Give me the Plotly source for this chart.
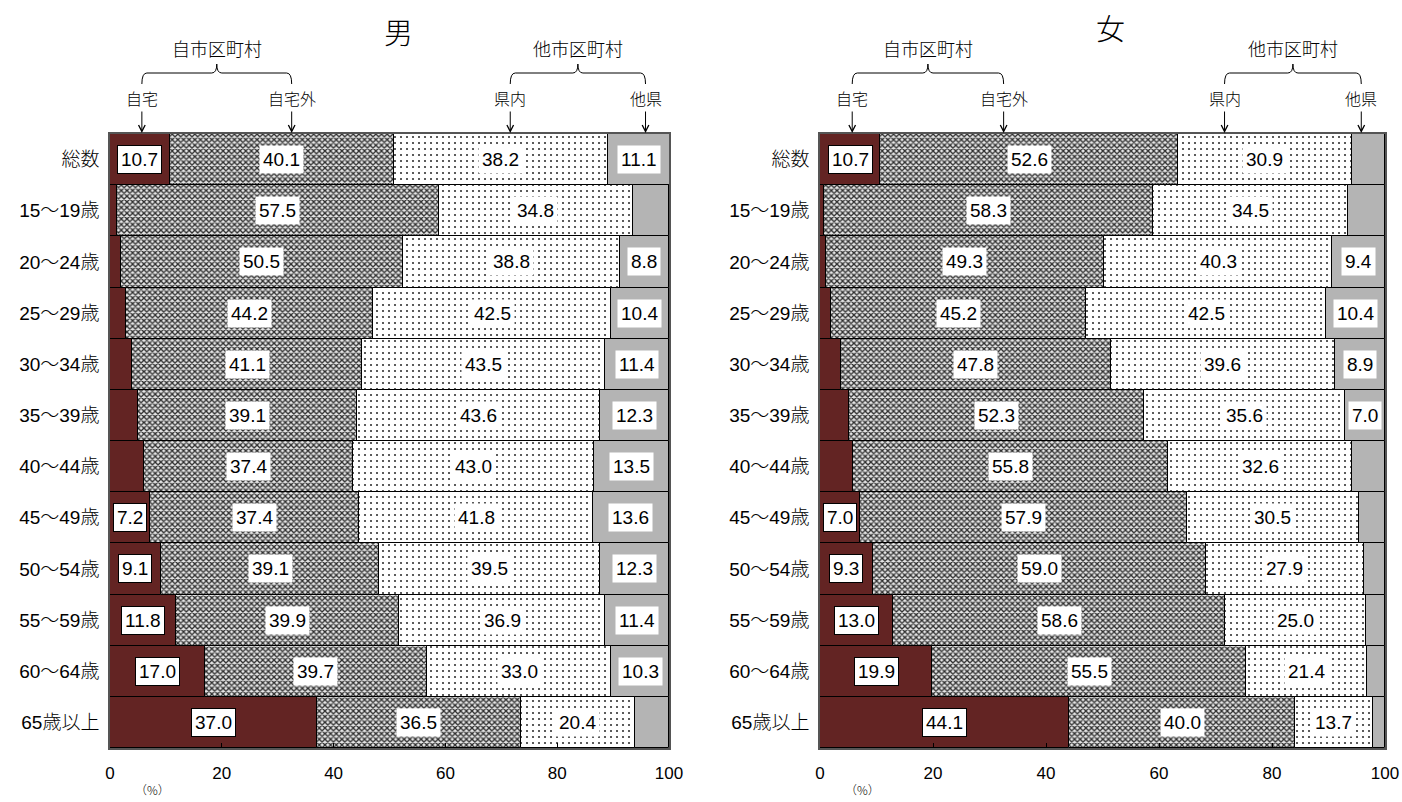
import plotly.graph_objects as go

# ---- data -----------------------------------------------------------------
categories = ["総数", "15～19歳", "20～24歳", "25～29歳", "30～34歳", "35～39歳",
              "40～44歳", "45～49歳", "50～54歳", "55～59歳", "60～64歳", "65歳以上"]

series_names = ["自宅", "自宅外", "県内", "他県"]

male_jitaku = [10.7, 1.3, 1.9, 2.9, 4.0, 5.0, 6.1, 7.2, 9.1, 11.8, 17.0, 37.0]
male_jitakugai = [40.1, 57.5, 50.5, 44.2, 41.1, 39.1, 37.4, 37.4, 39.1, 39.9, 39.7, 36.5]
male_kennai = [38.2, 34.8, 38.8, 42.5, 43.5, 43.6, 43.0, 41.8, 39.5, 36.9, 33.0, 20.4]
male_taken = [11.1, 6.4, 8.8, 10.4, 11.4, 12.3, 13.5, 13.6, 12.3, 11.4, 10.3, 6.1]

female_jitaku = [10.7, 0.7, 1.0, 1.9, 3.7, 5.1, 5.8, 7.0, 9.3, 13.0, 19.9, 44.1]
female_jitakugai = [52.6, 58.3, 49.3, 45.2, 47.8, 52.3, 55.8, 57.9, 59.0, 58.6, 55.5, 40.0]
female_kennai = [30.9, 34.5, 40.3, 42.5, 39.6, 35.6, 32.6, 30.5, 27.9, 25.0, 21.4, 13.7]
female_taken = [5.8, 6.5, 9.4, 10.4, 8.9, 7.0, 5.8, 4.6, 3.8, 3.4, 3.2, 2.2]

x_ticks = [0, 20, 40, 60, 80, 100]
panel_titles = ["男", "女"]
group_titles = ["自市区町村", "他市区町村"]

# ---- styling --------------------------------------------------------------
W, H = 1402, 802
SANS = "Liberation Sans, Arial, sans-serif"
JP = "Liberation Sans, Noto Sans CJK JP, sans-serif"
CJK = "Noto Sans CJK JP, sans-serif"
MIN_LABEL = 7.0  # values below this are left unlabelled


def px(x):
    return x / W


def py(y):
    return 1 - y / H


styles = [
    dict(color="#632423", pattern=None),
    dict(color="#808080", pattern=dict(shape="x", fgcolor="#2e2e2e", bgcolor="#e6e6e6",
                                       size=4, solidity=0.55, fillmode="replace")),
    dict(color="#ffffff", pattern=dict(shape=".", fgcolor="#333333", bgcolor="#ffffff",
                                       size=6, solidity=0.1, fillmode="replace")),
    dict(color="#b4b4b4", pattern=None),
]

panels = [
    dict(series=[male_jitaku, male_jitakugai, male_kennai, male_taken],
         xa="x", ya="y", dom=[110 / W, 669 / W], title=panel_titles[0], title_x=398, title_y=31),
    dict(series=[female_jitaku, female_jitakugai, female_kennai, female_taken],
         xa="x2", ya="y2", dom=[820 / W, 1385 / W], title=panel_titles[1], title_x=1110, title_y=27),
]

fig = go.Figure()
annotations = []
shapes = []

for p in panels:
    base = [0.0] * len(categories)
    for k, (name, vals) in enumerate(zip(series_names, p["series"])):
        st = styles[k]
        marker = dict(color=st["color"], line=dict(color="#000000", width=1))
        if st["pattern"] is not None:
            marker["pattern"] = st["pattern"]
        fig.add_trace(go.Bar(
            y=categories, x=vals, base=base, orientation="h", name=name,
            marker=marker, xaxis=p["xa"], yaxis=p["ya"], showlegend=False,
            hoverinfo="skip",
        ))
        for cat, b, v in zip(categories, base, vals):
            if v >= MIN_LABEL:
                annotations.append(dict(
                    x=b + v / 2, y=cat, xref=p["xa"], yref=p["ya"],
                    text=f"{v:.1f}", showarrow=False,
                    font=dict(family=SANS, size=19, color="#000000"),
                    bgcolor="#ffffff",
                    bordercolor="#000000" if k == 0 else "rgba(0,0,0,0)",
                    borderwidth=1, borderpad=3,
                ))
        base = [b + v for b, v in zip(base, vals)]

    # panel title
    annotations.append(dict(x=px(p["title_x"]), y=py(p["title_y"]), xref="paper", yref="paper",
                            xanchor="center", yanchor="middle",
                            text=p["title"], showarrow=False,
                            font=dict(family=CJK, size=29, color="#000000", weight=300)))
    # (%) under the axis
    x0px = p["dom"][0] * W
    annotations.append(dict(x=px(x0px + 42), y=py(789), xref="paper", yref="paper",
                            xanchor="center", yanchor="middle",
                            text="（%）", showarrow=False,
                            font=dict(family=CJK, size=12, color="#000000", weight=300)))

    # braces, group titles and arrowed labels
    groups = [((5.7, "自宅"), (32.5, "自宅外")), ((71.6, "県内"), (95.8, "他県"))]
    for gi, ((xa0, la), (xa1, lb)) in enumerate(groups):
        xc = (xa0 + xa1) / 2
        d = 0.9
        ya, yb, yc = py(84), py(73), py(64)
        path = (f"M {xa0},{ya} Q {xa0},{yb} {xa0 + d},{yb} L {xc - d},{yb} "
                f"Q {xc},{yb} {xc},{yc} Q {xc},{yb} {xc + d},{yb} "
                f"L {xa1 - d},{yb} Q {xa1},{yb} {xa1},{ya}")
        shapes.append(dict(type="path", path=path, xref=p["xa"], yref="paper",
                           line=dict(color="#000000", width=1)))
        annotations.append(dict(x=xc, y=py(48), xref=p["xa"], yref="paper",
                                xanchor="center", yanchor="middle",
                                text=group_titles[gi], showarrow=False,
                                font=dict(family=CJK, size=18, color="#000000", weight=300)))
        for xv, lab in ((xa0, la), (xa1, lb)):
            annotations.append(dict(x=xv, y=py(133), xref=p["xa"], yref="paper",
                                    text=lab, showarrow=True, ax=0, ay=-35,
                                    arrowhead=5, arrowsize=1.3, arrowwidth=1,
                                    arrowcolor="#000000", standoff=0,
                                    font=dict(family=CJK, size=16, color="#000000", weight=300)))

axis_common_x = dict(range=[0, 100], tickvals=x_ticks, ticktext=[str(t) for t in x_ticks],
                     showgrid=False, zeroline=False, showline=True, mirror=True,
                     linecolor="#555555", linewidth=1.5, ticks="inside", ticklen=5,
                     tickcolor="#000000", ticklabelstandoff=9,
                     tickfont=dict(family=SANS, size=17, color="#000000"), fixedrange=True)
axis_common_y = dict(categoryorder="array", categoryarray=categories, autorange="reversed",
                     showgrid=False, zeroline=False, showline=True, mirror=True,
                     linecolor="#555555", linewidth=1.5, ticks="", ticklabelstandoff=5,
                     tickfont=dict(family=JP, size=19, color="#000000", weight=300),
                     domain=[py(748), py(134)], fixedrange=True)

fig.update_layout(
    width=W, height=H, template="none",
    margin=dict(l=0, r=0, t=0, b=0),
    paper_bgcolor="#ffffff", plot_bgcolor="#ffffff",
    barmode="overlay", bargap=0,
    xaxis=dict(domain=panels[0]["dom"], anchor="y", **axis_common_x),
    xaxis2=dict(domain=panels[1]["dom"], anchor="y2", **axis_common_x),
    yaxis=dict(anchor="x", **axis_common_y),
    yaxis2=dict(anchor="x2", **axis_common_y),
    annotations=annotations, shapes=shapes,
)

fig.write_html("out.html")
